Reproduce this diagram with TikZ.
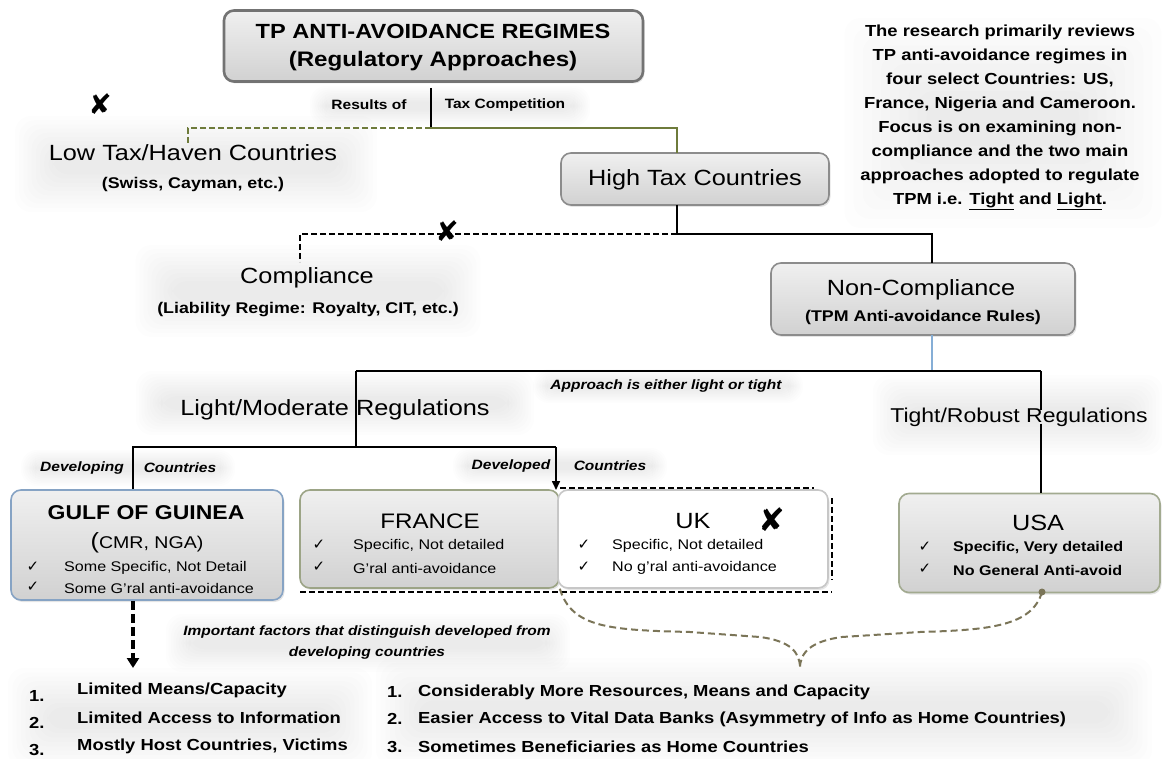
\documentclass[tikz,border=0pt]{standalone}
\usepackage{fontspec}
\setmainfont[FakeStretch=1.15]{Liberation Sans}
\newfontfamily\symfont{DejaVu Sans}
\usetikzlibrary{shadows,arrows.meta,calc}
\definecolor{oliveL}{HTML}{6E7B3B}
\definecolor{braceC}{HTML}{7B7558}
\definecolor{blueL}{HTML}{86AED6}
\definecolor{gulfB}{HTML}{86A3C4}
\definecolor{franceB}{HTML}{9CA486}
\definecolor{usaB}{HTML}{A2AA90}
% soft grey glow: centre x, centre y, width, height
\newcommand\softbg[4]{%
  \foreach \k in {0,...,9}{%
    \pgfmathsetmacro\ins{\k*min(#3,#4)/23}%
    \fill[black, opacity=0.008, rounded corners=16pt]
      (#1-#3/2+\ins, #2-#4/2+\ins) rectangle (#1+#3/2-\ins, #2+#4/2-\ins);
  }}
\begin{document}
\begin{tikzpicture}[x=1pt,y=-1pt,
  lbl/.style={inner sep=0pt, font=\fontsize{22}{26}\selectfont},
  sm/.style={inner sep=0pt, font=\bfseries\fontsize{15.5}{19}\selectfont},
  itl/.style={inner sep=0pt, font=\bfseries\itshape\fontsize{13.5}{21}\selectfont},
  lst/.style={inner sep=0pt, anchor=west, font=\bfseries\fontsize{16}{19}\selectfont},
  chk/.style={inner sep=0pt, anchor=west, font=\fontsize{14}{17}\selectfont},
  tick/.style={inner sep=0pt, font=\symfont\fontsize{15}{16}\selectfont},
  xmark/.style={inner sep=0pt, font=\symfont\fontsize{28}{28}\selectfont},
  box/.style={draw=black!45, line width=1.6pt, rounded corners=10pt, top color=black!6, bottom color=black!18, inner sep=0pt,
    drop shadow={opacity=0.2, shadow xshift=1.5pt, shadow yshift=-2pt}},
  ln/.style={line width=1.6pt},
  dsh/.style={line width=1.6pt, dash pattern=on 6pt off 3pt},
]
\useasboundingbox (0,0) rectangle (1162,759);
\fill[white] (0,0) rectangle (1162,759);

% ---------- soft backgrounds ----------
\softbg{450}{106}{280}{40}
\softbg{196}{164}{362}{96}
\softbg{1003}{123}{317}{210}
\softbg{308}{291}{345}{92}
\softbg{335}{403}{398}{64}
\softbg{668}{386}{270}{34}
\softbg{1018}{415}{290}{80}
\softbg{128}{468}{214}{36}
\softbg{560}{466}{214}{36}
\softbg{368}{643}{404}{58}
\softbg{190}{718}{364}{100}
\softbg{764}{712}{776}{108}

% ---------- boxes ----------
\node[box, draw=black!55, line width=2.6pt, minimum width=419, minimum height=71] (title) at (433.5,46) {};
\node[box, minimum width=268, minimum height=52] (high) at (695,179) {};
\node[box, minimum width=304, minimum height=72] (nonc) at (923,299) {};
\node[box, draw=gulfB, minimum width=272, minimum height=110] (gulf) at (147,545) {};
\node[box, draw=franceB, minimum width=259, minimum height=98] (france) at (429.5,539) {};
\node[box, draw=black!22, top color=white, bottom color=white, minimum width=270, minimum height=98] (uk) at (693,539) {};
\node[box, draw=usaB, minimum width=261, minimum height=99] (usa) at (1029.5,543) {};

% ---------- coordinates ----------
\coordinate (t0) at (431,88);
\coordinate (t1) at (431,128);
\coordinate (lowtop) at (188,143);
\coordinate (highin) at (677,153);
\coordinate (h0) at (677,205);
\coordinate (h1) at (677,234);
\coordinate (compin) at (300,262);
\coordinate (ncin) at (932,263);
\coordinate (ncout) at (932,335);
\coordinate (j2) at (932,371);
\coordinate (lj) at (356,371);
\coordinate (rj) at (1041,371);
\coordinate (lj2) at (356,447);
\coordinate (dl) at (133,447);
\coordinate (dr) at (556,447);
\coordinate (arrtip) at (556,490);
\coordinate (arr2) at (133,668);
\coordinate (usadot) at (1042,592);
\coordinate (tip) at (800,668);

% ---------- texts (some needed as anchors) ----------
\node[lbl, font=\bfseries\fontsize{20.5}{26}\selectfont] (titleA) at (433,31) {TP ANTI-AVOIDANCE REGIMES};
\node[lbl, font=\bfseries\fontsize{21}{26}\selectfont] (titleB) at (433,61) {(Regulatory Approaches)};
\node[itl, font=\bfseries\fontsize{13.5}{16}\selectfont] (resof) at (369,105) {Results of};
\node[itl, font=\bfseries\fontsize{13.5}{16}\selectfont] (taxc) at (505,105) {Tax Competition};
\node[xmark] (x1) at (100,104) {✘};
\node[lbl] (low) at (193,153) {Low Tax/Haven Countries};
\node[sm] (lowsub) at (193,184) {(Swiss, Cayman, etc.)};
\node[lbl] (highT) at (695,180) {High Tax Countries};
\node[inner sep=0pt, align=center, font=\bfseries\fontsize{16}{24}\selectfont] (note) at (1000,117)
  {The research primarily reviews\\TP anti-avoidance regimes in\\four select Countries: US,\\France, Nigeria and Cameroon.\\Focus is on examining non-\\compliance and the two main\\approaches adopted to regulate\\TPM i.e. \underline{Tight} and \underline{Light}.};
\node[lbl] (comp) at (307,278) {Compliance};
\node[sm] (compsub) at (308,310) {(Liability Regime: Royalty, CIT, etc.)};
\node[lbl] (ncA) at (921,290) {Non-Compliance};
\node[sm] (ncB) at (923,317) {(TPM Anti-avoidance Rules)};
\node[itl] (appr) at (666,386) {Approach is either light or tight};
\node[lbl] (light) at (335,410) {Light/Moderate Regulations};
\node[lbl, font=\fontsize{20}{24}\selectfont] (tight) at (1019,417) {Tight/Robust Regulations};
\node[itl] (dev1) at (82,468) {Developing};
\node[itl] (cty1) at (180,468) {Countries};
\node[itl] (dev2) at (511,466) {Developed};
\node[itl] (cty2) at (610,466) {Countries};

% ---------- connectors ----------
\draw[ln] (t0) -- (t1);
\draw[dsh, oliveL] (t1) -| (lowtop);
\draw[ln, oliveL] (t1) -| (highin);
\draw[ln] (h0) -- (h1);
\draw[dsh] (h1) -| (compin);
\draw[ln] (h1) -| (ncin);
\node[xmark] (x2) at (447,231) {✘};
\draw[ln, blueL] (ncout) -- (j2);
\draw[ln] (lj) -- (rj);
\draw[ln] (lj) -- (lj2);
\draw[ln] (rj) -- ([yshift=-3pt]tight.north -| rj);
\draw[ln] ([yshift=3pt]tight.south -| rj) -- (usa.north -| rj);
\draw[ln] (gulf.north -| dl) -- (dl) -- (dr);
\draw[ln, -{Triangle[length=9pt,width=8pt]}] (dr) -- (arrtip);
\draw[line width=3.4pt, dash pattern=on 9pt off 4pt, -{Triangle[length=10pt,width=12pt]}] (gulf.south -| arr2) -- (arr2);

% dashed frame round UK
\draw[dsh] (560,488) -- (814,488);
\draw[dsh] (832,498) -- (832,580);
\draw[dsh] (300,592) -- (832,592);

% curly brace
\draw[braceC, line width=2pt, dash pattern=on 7pt off 4pt]
  (france.south east) .. controls (572,628) and (610,630) .. (690,632)
  -- (760,637) .. controls (790,641) and (800,652) .. (tip);
\draw[braceC, line width=2pt, dash pattern=on 7pt off 4pt]
  (usadot) .. controls (1032,626) and (990,630) .. (920,632)
  -- (842,637) .. controls (812,641) and (800,652) .. (tip);
\fill[braceC] (usadot) circle (3.5pt);

% Gulf of Guinea
\node[lbl, font=\bfseries\fontsize{20}{24}\selectfont] (gulfA) at (146,513) {GULF OF GUINEA};
\node[inner sep=0pt, font=\fontsize{17}{20}\selectfont] (gulfS) at (147,543) {{\fontsize{22}{24}\selectfont(}CMR, NGA)};
\node[tick] (gk1) at (33,567) {✓};
\node[chk] (gt1) at (64,568) {Some Specific, Not Detail};
\node[tick] (gk2) at (33,587) {✓};
\node[chk] (gt2) at (64,588) {Some G’ral anti-avoidance};
% France
\node[lbl, font=\fontsize{21}{24}\selectfont] (frA) at (430,521) {FRANCE};
\node[tick] (fk1) at (319,545) {✓};
\node[chk] (ft1) at (353,546) {Specific, Not detailed};
\node[tick] (fk2) at (319,567) {✓};
\node[chk] (ft2) at (353,568) {G’ral anti-avoidance};
% UK
\node[lbl] (ukA) at (693,521) {UK};
\node[xmark, font=\symfont\fontsize{32}{32}\selectfont] (x3) at (772,520) {✘};
\node[tick] (uk1) at (584,545) {✓};
\node[chk] (ut1) at (612,546) {Specific, Not detailed};
\node[tick] (uk2) at (584,567) {✓};
\node[chk] (ut2) at (612,568) {No g’ral anti-avoidance};
% USA
\node[lbl] (usaA) at (1038,523) {USA};
\node[tick] (sk1) at (925,547) {✓};
\node[chk, font=\bfseries\fontsize{14}{17}\selectfont] (st1) at (953,548) {Specific, Very detailed};
\node[tick] (sk2) at (925,569) {✓};
\node[chk, font=\bfseries\fontsize{14}{17}\selectfont] (st2) at (953,570) {No General Anti-avoid};

\node[itl, align=center] (imp) at (367,643) {Important factors that distinguish developed from\\developing countries};

% left list
\node[lst] (ln1) at (29,696) {1.};
\node[lst] (li1) at (77,690) {Limited Means/Capacity};
\node[lst] (ln2) at (29,723) {2.};
\node[lst] (li2) at (77,718) {Limited Access to Information};
\node[lst] (ln3) at (29,750) {3.};
\node[lst] (li3) at (77,746) {Mostly Host Countries, Victims};
% right list
\node[lst] (rn1) at (387,692) {1.};
\node[lst] (ri1) at (418,692) {Considerably More Resources, Means and Capacity};
\node[lst] (rn2) at (387,719) {2.};
\node[lst] (ri2) at (418,719) {Easier Access to Vital Data Banks (Asymmetry of Info as Home Countries)};
\node[lst] (rn3) at (387,747) {3.};
\node[lst] (ri3) at (418,747) {Sometimes Beneficiaries as Home Countries};
\end{tikzpicture}
\end{document}
